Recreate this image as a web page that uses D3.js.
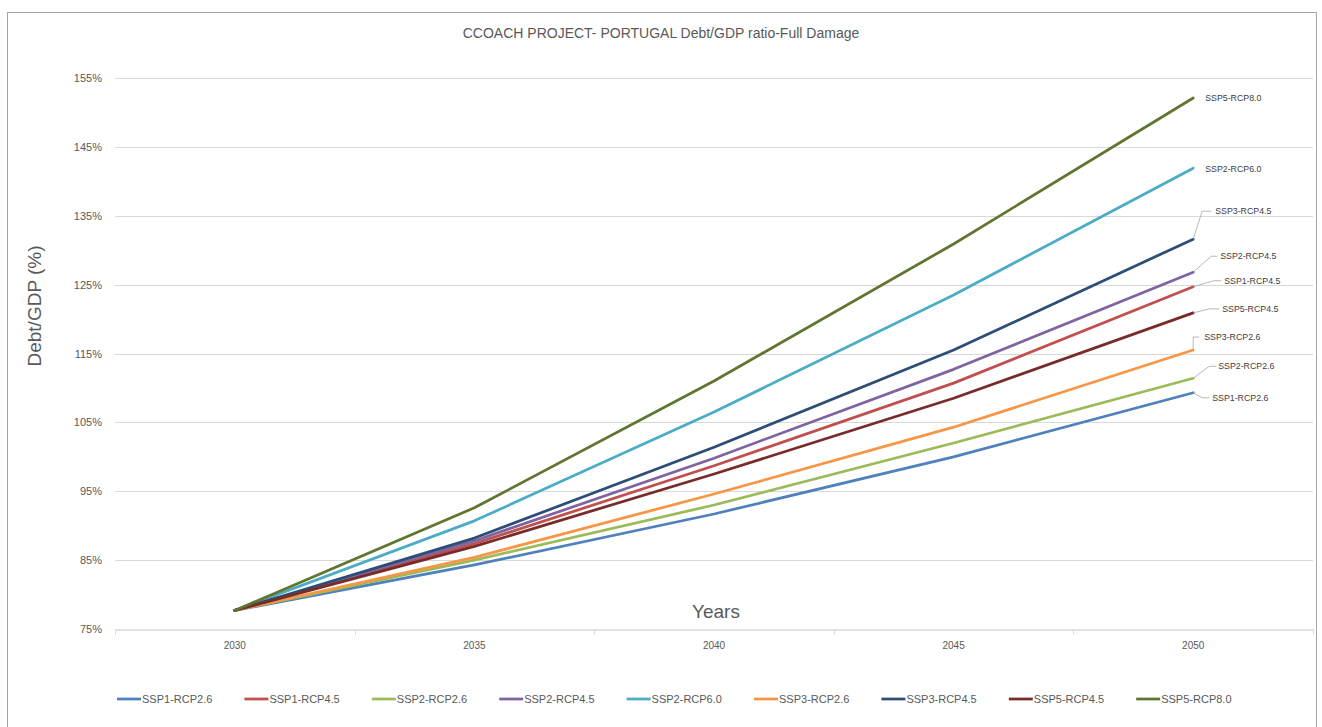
<!DOCTYPE html>
<html>
<head>
<meta charset="utf-8">
<script src="https://cdn.jsdelivr.net/npm/d3@7/dist/d3.min.js"></script>
<style>
  html, body { margin: 0; padding: 0; background: #ffffff; }
  svg { display: block; font-family: "Liberation Sans", Arial, sans-serif; }
</style>
</head>
<body>
<svg id="chart" width="1322" height="727"></svg>
<script>
// ---------- data ----------
const years = ["2030", "2035", "2040", "2045", "2050"];
const seriesNames = ["SSP1-RCP2.6", "SSP1-RCP4.5", "SSP2-RCP2.6", "SSP2-RCP4.5", "SSP2-RCP6.0",
                     "SSP3-RCP2.6", "SSP3-RCP4.5", "SSP5-RCP4.5", "SSP5-RCP8.0"];
const ssp1_rcp26 = [77.7, 84.3, 91.7, 100.0, 109.3];
const ssp1_rcp45 = [77.7, 87.4, 98.7, 110.7, 124.7];
const ssp2_rcp26 = [77.7, 85.0, 93.0, 102.0, 111.4];
const ssp2_rcp45 = [77.7, 87.8, 99.8, 112.7, 126.8];
const ssp2_rcp60 = [77.7, 90.7, 106.5, 123.5, 141.9];
const ssp3_rcp26 = [77.7, 85.4, 94.6, 104.3, 115.5];
const ssp3_rcp45 = [77.7, 88.2, 101.4, 115.5, 131.6];
const ssp5_rcp45 = [77.7, 87.0, 97.5, 108.5, 120.9];
const ssp5_rcp80 = [77.7, 92.6, 111.0, 130.9, 152.1];
const seriesValues = [ssp1_rcp26, ssp1_rcp45, ssp2_rcp26, ssp2_rcp45, ssp2_rcp60,
                      ssp3_rcp26, ssp3_rcp45, ssp5_rcp45, ssp5_rcp80];
const yTicks = [75, 85, 95, 105, 115, 125, 135, 145, 155];
const titleText = "CCOACH PROJECT- PORTUGAL Debt/GDP ratio-Full Damage";
const yTitleText = "Debt/GDP (%)";
const xTitleText = "Years";

// ---------- styles / layout (separate from data) ----------
const colors = ["#4F81BD", "#C0504D", "#9BBB59", "#8064A2", "#4BACC6",
                "#F79646", "#2C4D75", "#772C2A", "#5F7530"];
// end-label leader offsets relative to the last point
const labelLayout = [
  { ex: 9,  ey: 5,   hx: 16, tx: 19, leader: true },   // SSP1-RCP2.6
  { ex: 21, ey: -6,  hx: 28, tx: 31, leader: true },   // SSP1-RCP4.5
  { ex: 16, ey: -12, hx: 23, tx: 25, leader: true },   // SSP2-RCP2.6
  { ex: 18, ey: -16, hx: 24, tx: 27, leader: true },   // SSP2-RCP4.5
  { ex: 0,  ey: 1,   hx: 0,  tx: 12, leader: false },  // SSP2-RCP6.0
  { ex: 0,  ey: -13, hx: 6,  tx: 11, leader: true },   // SSP3-RCP2.6
  { ex: 9,  ey: -28, hx: 18, tx: 22, leader: true },   // SSP3-RCP4.5
  { ex: 16, ey: -4,  hx: 26, tx: 29, leader: true },   // SSP5-RCP4.5
  { ex: 0,  ey: 0,   hx: 0,  tx: 12, leader: false }   // SSP5-RCP8.0
];

const svg = d3.select("#chart");
const textColor = "#595959";
const gridColor = "#d9d9d9";

// chart border
svg.append("rect")
  .attr("x", 7.5).attr("y", 12.5)
  .attr("width", 1309).attr("height", 740)
  .attr("fill", "#ffffff")
  .attr("stroke", "#a6a6a6").attr("stroke-width", 1);

const plot = { left: 115, right: 1313, top: 78, bottom: 629 };

const x = d3.scaleBand().domain(years).range([plot.left, plot.right]).padding(0);
const y = d3.scaleLinear().domain([75, 155]).range([plot.bottom, plot.top]);

// title
svg.append("text")
  .attr("x", 661).attr("y", 38)
  .attr("text-anchor", "middle")
  .attr("font-size", 14)
  .attr("fill", textColor)
  .text(titleText);

// gridlines
svg.append("g")
  .selectAll("line")
  .data(yTicks.filter(t => t !== 75))
  .join("line")
  .attr("x1", plot.left).attr("x2", plot.right)
  .attr("y1", d => Math.round(y(d)) + 0.5).attr("y2", d => Math.round(y(d)) + 0.5)
  .attr("stroke", gridColor).attr("stroke-width", 1);

// y axis labels
const yAxis = d3.axisLeft(y).tickValues(yTicks).tickSize(0).tickPadding(13)
  .tickFormat(d => d + "%");
const gy = svg.append("g").attr("transform", `translate(${plot.left},0)`).call(yAxis);
gy.select(".domain").remove();
gy.selectAll("text").attr("font-size", 11).attr("fill", textColor)
  .attr("font-family", "'Liberation Sans', Arial, sans-serif");

// x axis
const xAxis = d3.axisBottom(x).tickSize(0).tickPadding(12);
const gx = svg.append("g").attr("transform", `translate(0,${Math.round(y(75)) + 0.5})`).call(xAxis);
gx.select(".domain").attr("stroke", gridColor).attr("stroke-width", 1.5);
gx.selectAll("text").attr("font-size", 10).attr("fill", textColor)
  .attr("font-family", "'Liberation Sans', Arial, sans-serif");
// tick marks at band boundaries
const boundaries = years.map(yr => x(yr)).concat([x(years[years.length - 1]) + x.bandwidth()]);
gx.append("g").selectAll("line")
  .data(boundaries)
  .join("line")
  .attr("x1", d => Math.round(d) + 0.5).attr("x2", d => Math.round(d) + 0.5)
  .attr("y1", 0).attr("y2", 5)
  .attr("stroke", gridColor).attr("stroke-width", 1);

// axis titles
svg.append("text")
  .attr("transform", `translate(41,306) rotate(-90)`)
  .attr("text-anchor", "middle")
  .attr("font-size", 19)
  .attr("fill", textColor)
  .text(yTitleText);

svg.append("text")
  .attr("x", 716).attr("y", 618)
  .attr("text-anchor", "middle")
  .attr("font-size", 19)
  .attr("fill", textColor)
  .text(xTitleText);

// lines
const cx = yr => x(yr) + x.bandwidth() / 2;
const line = d3.line().x((d, i) => cx(years[i])).y(d => y(d));

svg.append("g")
  .selectAll("path")
  .data(seriesValues)
  .join("path")
  .attr("d", d => line(d))
  .attr("fill", "none")
  .attr("stroke", (d, i) => colors[i])
  .attr("stroke-width", 2.75)
  .attr("stroke-linejoin", "round")
  .attr("stroke-linecap", "round");

// end labels with leader lines
const lastYear = years[years.length - 1];
const labels = svg.append("g");
seriesNames.forEach((name, i) => {
  const px = cx(lastYear);
  const py = y(seriesValues[i][seriesValues[i].length - 1]);
  const L = labelLayout[i];
  if (L.leader) {
    labels.append("polyline")
      .attr("points", `${px},${py} ${px + L.ex},${py + L.ey} ${px + L.hx},${py + L.ey}`)
      .attr("fill", "none")
      .attr("stroke", "#a6a6a6")
      .attr("stroke-width", 0.8);
  }
  labels.append("text")
    .attr("x", px + L.tx)
    .attr("y", py + L.ey)
    .attr("dy", "0.35em")
    .attr("font-size", 8.8)
    .attr("fill", "#404040")
    .text(name);
});

// legend
const legend = svg.append("g").attr("transform", "translate(117,699)");
const legendStep = 127.4;
seriesNames.forEach((name, i) => {
  const g = legend.append("g").attr("transform", `translate(${i * legendStep},0)`);
  g.append("line")
    .attr("x1", 0).attr("x2", 24).attr("y1", 0).attr("y2", 0)
    .attr("stroke", colors[i]).attr("stroke-width", 2.75);
  g.append("text")
    .attr("x", 25).attr("y", 0).attr("dy", "0.35em")
    .attr("font-size", 11)
    .attr("fill", textColor)
    .text(name);
});
</script>
</body>
</html>
